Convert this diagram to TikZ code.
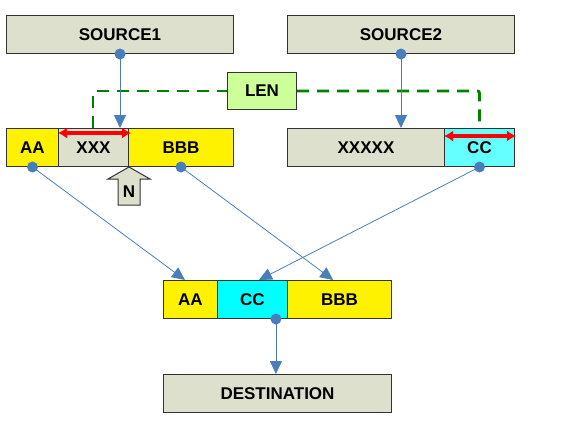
\documentclass[tikz,border=0pt]{standalone}
\usepackage{fontspec}
\setmainfont{Liberation Sans}
\usetikzlibrary{arrows.meta,calc}
\definecolor{boxgray}{RGB}{221,224,204}
\definecolor{lengreen}{RGB}{204,255,153}
\definecolor{cclight}{RGB}{102,255,255}
\definecolor{ccfull}{RGB}{0,255,255}
\definecolor{linkblue}{RGB}{74,126,187}
\definecolor{dashgreen}{RGB}{0,128,0}
\tikzset{
  box/.style={draw=black!80, line width=1pt, minimum height=38pt, inner sep=0pt,
    anchor=north west, font=\bfseries\fontsize{17}{20}\selectfont, text=black},
  conn/.style={draw=linkblue, line width=0.8pt, -{Triangle[length=13pt,width=12pt]}},
  dot/.style={fill=linkblue},
  lenarrow/.style={draw=red, line width=3.5pt, {Latex[length=9pt,width=11pt]}-{Latex[length=9pt,width=11pt]}},
  lenline/.style={draw=dashgreen, line width=2.8pt, dash pattern=on 12pt off 8pt, rounded corners=2pt},
}
\begin{document}
\begin{tikzpicture}[x=1pt,y=-1pt]
\useasboundingbox (0,0) rectangle (563,426);
% top sources
\node[box, fill=boxgray, minimum width=227pt] (s1) at (6,15) {SOURCE1};
\node[box, fill=boxgray, minimum width=227pt] (s2) at (287,15) {SOURCE2};
% LEN
\node[box, fill=lengreen, minimum width=69pt, minimum height=37pt] (len) at (227,72) {LEN};
% middle row left
\node[box, fill=yellow, minimum width=52pt] (aa1) at (6,128) {AA};
\node[box, fill=boxgray, minimum width=70pt] (xxx) at (58,128) {XXX};
\node[box, fill=yellow, minimum width=105pt] (bbb1) at (128,128) {BBB};
% middle row right
\node[box, fill=boxgray, minimum width=157pt] (x5) at (287,128) {XXXXX};
\node[box, fill=cclight, minimum width=70pt] (cc1) at (444,128) {CC};
% bottom row
\node[box, fill=yellow, minimum width=54pt] (aa2) at (163,280) {AA};
\node[box, fill=ccfull, minimum width=70pt] (cc2) at (217,280) {CC};
\node[box, fill=yellow, minimum width=104pt] (bbb2) at (287,280) {BBB};
% destination
\node[box, fill=boxgray, minimum width=228pt] (dest) at (163,374) {DESTINATION};
% N block arrow
\draw[draw=black!80, line width=1pt, fill=boxgray]
  (xxx.south east) -- ++(21,12) -- ++(-10,0) -- ++(0,26) -- ++(-22,0) -- ++(0,-26) -- ++(-10,0) -- cycle;
\node[font=\bfseries\fontsize{17}{20}\selectfont, inner sep=0pt] (n) at ($(xxx.south east)+(0,25)$) {N};
% dashed LEN lines
\coordinate (lenL) at ($(xxx.north west)+(35,0)$);
\draw[lenline] (lenL) |- (len.west);
\draw[lenline] (len.east) -| (cc1.north);
% connectors
\coordinate (cc2dot) at ($(cc2.south west)!0.83!(cc2.south east)$);
\draw[conn] (s1.south) -- (s1.south |- xxx.north);
\draw[conn] (s2.south) -- (s2.south |- x5.north);
\draw[conn] (aa1.south) -- ($(aa2.north west)!0.4!(aa2.north east)$);
\draw[conn] (bbb1.south) -- ($(bbb2.north west)!0.44!(bbb2.north east)$);
\draw[conn] (cc1.south) -- ($(cc2.north west)!0.59!(cc2.north east)$);
\draw[conn] (cc2dot) -- (cc2dot |- dest.north);
% dots
\fill[dot] (s1.south) circle (5.5pt);
\fill[dot] (s2.south) circle (5.5pt);
\fill[dot] (aa1.south) circle (5.5pt);
\fill[dot] (bbb1.south) circle (5.5pt);
\fill[dot] (cc1.south) circle (5.5pt);
\fill[dot] (cc2dot) circle (5.5pt);
% red length arrows
\draw[lenarrow] ($(xxx.north west)+(0,5)$) -- ($(xxx.north east)+(2,5)$);
\draw[lenarrow] ($(cc1.north west)+(0,8)$) -- ($(cc1.north east)+(1,8)$);
\end{tikzpicture}
\end{document}
